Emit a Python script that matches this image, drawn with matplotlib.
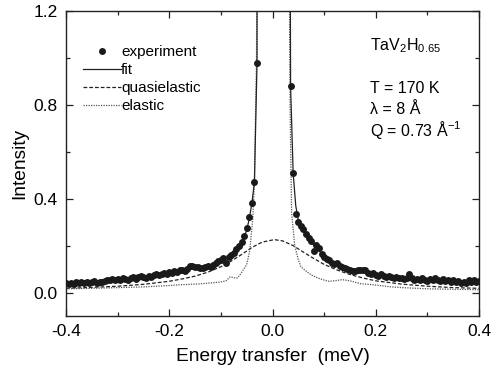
import matplotlib
matplotlib.use("Agg")
import matplotlib.pyplot as plt
from matplotlib.ticker import MultipleLocator, FormatStrFormatter

plt.rcParams['font.family'] = ['Liberation Sans', 'DejaVu Sans']
plt.rcParams['mathtext.default'] = 'regular'

# experimental data (energy transfer meV, intensity)
exp_x = [-0.400, -0.395, -0.390, -0.385, -0.380, -0.375, -0.370, -0.365, -0.360, -0.355,
         -0.350, -0.345, -0.340, -0.335, -0.330, -0.325, -0.320, -0.315, -0.310, -0.305,
         -0.300, -0.295, -0.290, -0.285, -0.280, -0.275, -0.270, -0.265, -0.260, -0.255,
         -0.250, -0.245, -0.240, -0.235, -0.230, -0.225, -0.220, -0.215, -0.210, -0.205,
         -0.200, -0.195, -0.190, -0.185, -0.180, -0.175, -0.170, -0.165, -0.160, -0.155,
         -0.150, -0.145, -0.140, -0.135, -0.130, -0.125, -0.120, -0.115, -0.110, -0.105,
         -0.100, -0.095, -0.090, -0.085, -0.080, -0.075, -0.070, -0.065, -0.060, -0.055,
         -0.050, -0.045, -0.040, -0.035, -0.030,
         0.035, 0.040, 0.045, 0.050, 0.055, 0.060, 0.065, 0.070, 0.075, 0.080,
         0.085, 0.090, 0.095, 0.100, 0.105, 0.110, 0.115, 0.120, 0.125, 0.130,
         0.135, 0.140, 0.145, 0.150, 0.155, 0.160, 0.165, 0.170, 0.175, 0.180,
         0.185, 0.190, 0.195, 0.200, 0.205, 0.210, 0.215, 0.220, 0.225, 0.230,
         0.235, 0.240, 0.245, 0.250, 0.255, 0.260, 0.265, 0.270, 0.275, 0.280,
         0.285, 0.290, 0.295, 0.300, 0.305, 0.310, 0.315, 0.320, 0.325, 0.330,
         0.335, 0.340, 0.345, 0.350, 0.355, 0.360, 0.365, 0.370, 0.375, 0.380,
         0.385, 0.390, 0.395, 0.400]
exp_y = [0.040, 0.035, 0.042, 0.038, 0.045, 0.040, 0.043, 0.039, 0.046, 0.041,
         0.044, 0.048, 0.040, 0.047, 0.043, 0.050, 0.055, 0.052, 0.056, 0.053,
         0.058, 0.055, 0.060, 0.057, 0.052, 0.060, 0.065, 0.058, 0.068, 0.072,
         0.066, 0.064, 0.070, 0.068, 0.074, 0.078, 0.073, 0.080, 0.084, 0.078,
         0.086, 0.082, 0.090, 0.086, 0.094, 0.098, 0.092, 0.102, 0.112, 0.114,
         0.110, 0.108, 0.106, 0.104, 0.108, 0.112, 0.110, 0.118, 0.128, 0.134,
         0.140, 0.146, 0.128, 0.150, 0.160, 0.170, 0.185, 0.200, 0.215, 0.240,
         0.275, 0.320, 0.380, 0.470, 0.980,
         0.880, 0.510, 0.335, 0.300, 0.285, 0.270, 0.250, 0.232, 0.218, 0.176,
         0.204, 0.190, 0.165, 0.150, 0.145, 0.138, 0.128, 0.120, 0.124, 0.112,
         0.108, 0.106, 0.100, 0.096, 0.092, 0.090, 0.094, 0.098, 0.096, 0.094,
         0.084, 0.080, 0.082, 0.076, 0.072, 0.078, 0.070, 0.066, 0.072, 0.068,
         0.062, 0.066, 0.060, 0.064, 0.058, 0.062, 0.080, 0.060, 0.055, 0.058,
         0.052, 0.060, 0.054, 0.050, 0.058, 0.052, 0.060, 0.054, 0.048, 0.056,
         0.050, 0.055, 0.046, 0.052, 0.044, 0.048, 0.042, 0.045, 0.040, 0.052,
         0.044, 0.054, 0.046, 0.050]

# fit curve
fit_x = [-0.40, -0.35, -0.30, -0.25, -0.20, -0.15, -0.12, -0.10, -0.08, -0.07,
         -0.06, -0.05, -0.045, -0.04, -0.035, -0.030, -0.029, -0.02, 0.0, 0.02,
         0.033, 0.035, 0.040, 0.045, 0.05, 0.06, 0.07, 0.08, 0.10, 0.12,
         0.15, 0.20, 0.25, 0.30, 0.35, 0.40]
fit_y = [0.040, 0.045, 0.054, 0.066, 0.082, 0.104, 0.118, 0.135, 0.160, 0.180,
         0.210, 0.265, 0.315, 0.380, 0.470, 0.980, 2.5, 6.0, 9.0, 6.0,
         2.5, 0.880, 0.510, 0.370, 0.310, 0.265, 0.232, 0.200, 0.155, 0.124,
         0.100, 0.078, 0.064, 0.055, 0.049, 0.045]

# quasielastic component
qe_x = [-0.40, -0.35, -0.30, -0.25, -0.20, -0.175, -0.15, -0.125, -0.10, -0.08,
        -0.06, -0.04, -0.02, 0.00, 0.005, 0.02, 0.04, 0.06, 0.08, 0.10,
        0.125, 0.15, 0.175, 0.20, 0.25, 0.30, 0.35, 0.40]
qe_y = [0.018, 0.022, 0.027, 0.035, 0.048, 0.058, 0.070, 0.087, 0.110, 0.134,
        0.162, 0.192, 0.215, 0.224, 0.225, 0.220, 0.200, 0.172, 0.145, 0.120,
        0.096, 0.077, 0.062, 0.050, 0.036, 0.027, 0.021, 0.018]

# elastic component
el_x = [-0.40, -0.35, -0.30, -0.25, -0.20, -0.18, -0.16, -0.14, -0.12, -0.10,
        -0.09, -0.082, -0.075, -0.068, -0.06, -0.05, -0.044, -0.038, -0.035, -0.031,
        -0.029, -0.02, 0.0, 0.02, 0.031, 0.034, 0.037, 0.043, 0.05, 0.055,
        0.063, 0.075, 0.09, 0.108, 0.12, 0.135, 0.15, 0.17, 0.20, 0.23,
        0.26, 0.30, 0.35, 0.40]
el_y = [0.016, 0.018, 0.021, 0.024, 0.030, 0.033, 0.035, 0.037, 0.041, 0.045,
        0.050, 0.067, 0.063, 0.062, 0.085, 0.119, 0.180, 0.320, 0.480, 1.0,
        2.0, 6.0, 10.0, 6.0, 2.0, 0.8, 0.34, 0.20, 0.140, 0.110,
        0.095, 0.075, 0.060, 0.048, 0.050, 0.055, 0.050, 0.038, 0.032, 0.024,
        0.020, 0.016, 0.014, 0.012]

info_title = 'TaV$_2$H$_{0.65}$'
info_lines = ['T = 170 K', 'λ = 8 Å', 'Q = 0.73 Å$^{-1}$']

fig = plt.figure(figsize=(4.91, 3.79), dpi=100)
ax = fig.add_axes([0.1344, 0.1662, 0.9756 - 0.1344, 0.971 - 0.1662])

ax.plot(exp_x, exp_y, 'o', color='#1a1a1a', ms=5.0, mew=0, label='experiment', zorder=4)
ax.plot(fit_x, fit_y, '-', color='#222222', lw=0.9, label='fit', zorder=3)
ax.plot(qe_x, qe_y, '--', color='#222222', lw=0.9, dashes=(3, 1.6), label='quasielastic', zorder=2)
ax.plot(el_x, el_y, ':', color='#555555', lw=0.9, dashes=(1, 1), label='elastic', zorder=2)

ax.set_xlim(-0.4, 0.4)
ax.set_ylim(-0.1, 1.2)
ax.xaxis.set_major_locator(MultipleLocator(0.2))
ax.xaxis.set_minor_locator(MultipleLocator(0.1))
ax.yaxis.set_major_locator(MultipleLocator(0.4))
ax.yaxis.set_minor_locator(MultipleLocator(0.2))
ax.xaxis.set_major_formatter(FormatStrFormatter('%.1f'))
ax.yaxis.set_major_formatter(FormatStrFormatter('%.1f'))
ax.tick_params(which='both', direction='in', top=True, right=True, labelsize=12.5, color='#222222')
ax.tick_params(which='major', length=5, width=0.9, pad=6)
ax.tick_params(which='minor', length=3, width=0.9)
for s in ax.spines.values():
    s.set_linewidth(1.0)
    s.set_color('#222222')

ax.set_xlabel('Energy transfer  (meV)', fontsize=13.8, labelpad=6)
ax.set_ylabel('Intensity', fontsize=13.8, labelpad=4)

leg = ax.legend(loc='upper left', bbox_to_anchor=(0.027, 0.907), frameon=False, fontsize=11,
                handlelength=2.47, handletextpad=0.0, labelspacing=0.25, numpoints=1,
                borderaxespad=0)

ax.text(0.737, 0.885, info_title, transform=ax.transAxes, fontsize=11.5, va='center', ha='left')
for i, t in enumerate(info_lines):
    ax.text(0.737, 0.747 - i * 0.069, t, transform=ax.transAxes, fontsize=11.5, va='center', ha='left')

fig.savefig('out.png', dpi=100)
